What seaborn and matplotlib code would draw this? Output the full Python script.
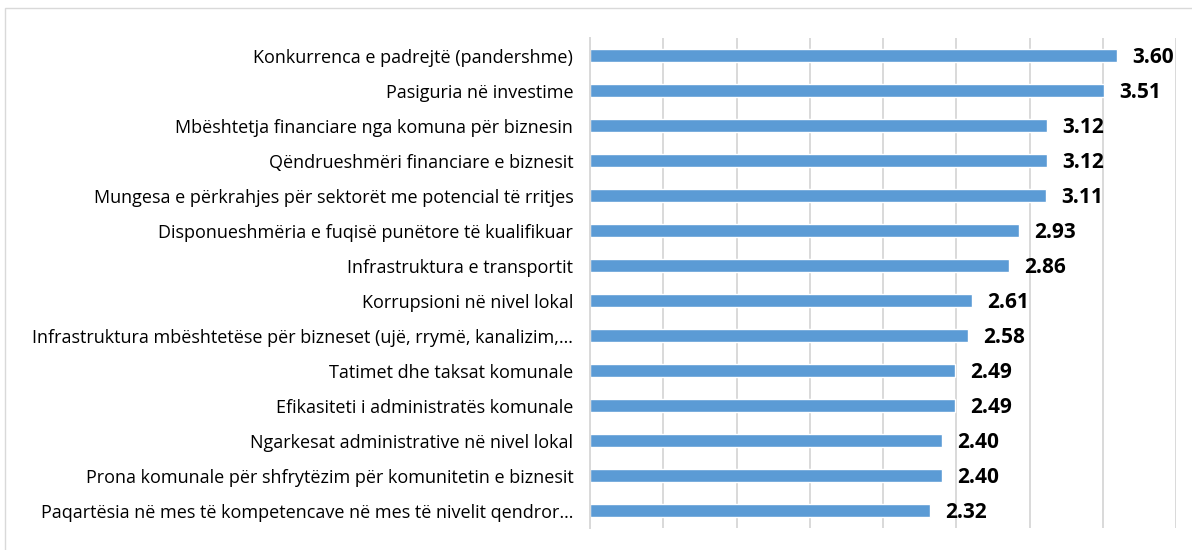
import matplotlib
matplotlib.use("Agg")
import matplotlib.pyplot as plt
import seaborn as sns
import pandas as pd
from matplotlib.patches import Rectangle

# data
categories = [
    "Konkurrenca e padrejtë (pandershme)",
    "Pasiguria në investime",
    "Mbështetja financiare nga komuna për biznesin",
    "Qëndrueshmëri financiare e biznesit",
    "Mungesa e përkrahjes për sektorët me potencial të rritjes",
    "Disponueshmëria e fuqisë punëtore të kualifikuar",
    "Infrastruktura e transportit",
    "Korrupsioni në nivel lokal",
    "Infrastruktura mbështetëse për bizneset (ujë, rrymë, kanalizim,…",
    "Tatimet dhe taksat komunale",
    "Efikasiteti i administratës komunale",
    "Ngarkesat administrative në nivel lokal",
    "Prona komunale për shfrytëzim për komunitetin e biznesit",
    "Paqartësia në mes të kompetencave në mes të nivelit qendror…",
]
scores = [3.60, 3.51, 3.12, 3.12, 3.11, 2.93, 2.86, 2.61, 2.58, 2.49, 2.49, 2.40, 2.40, 2.32]
x_ticks = [0, 0.5, 1.0, 1.5, 2.0, 2.5, 3.0, 3.5, 4.0]

df = pd.DataFrame({"cat": categories, "score": scores})

sns.set_theme(style="white")
plt.rcParams["font.family"] = ["Open Sans", "DejaVu Sans"]

fig = plt.figure(figsize=(11.92, 5.5), dpi=100)
ax = fig.add_axes([590 / 1192, 1 - 528 / 550, (1176 - 590) / 1192, (528 - 38) / 550])

sns.barplot(data=df, x="score", y="cat", orient="h", color="#5B9BD5",
            saturation=1, width=0.37, ax=ax)

ax.set_xlim(0, 4.0)
ax.set_xticks(x_ticks)
ax.set_xticklabels([])
ax.grid(axis="x", color="#d9d9d9", linewidth=1.4)
ax.set_axisbelow(True)
ax.set_xlabel("")
ax.set_ylabel("")
for s in ["top", "right", "bottom"]:
    ax.spines[s].set_visible(False)
ax.spines["left"].set_color("#d9d9d9")
ax.spines["left"].set_linewidth(1.4)
ax.tick_params(axis="y", length=0, pad=12, labelsize=13, labelcolor="black")
ax.tick_params(axis="x", length=0)

# value labels
for i, v in enumerate(scores):
    ax.annotate(f"{v:.2f}", xy=(v, i), xytext=(11, -1.5), textcoords="offset points",
                ha="left", va="center", fontsize=15, fontweight="bold", color="black")

# outer chart frame
fig.patches.append(Rectangle((5 / 1192, -0.1), 1.2, 1 - 8 / 550 + 0.1,
                             transform=fig.transFigure, fill=False,
                             edgecolor="#d9d9d9", linewidth=1.0))

fig.savefig("out.png", dpi=100)
